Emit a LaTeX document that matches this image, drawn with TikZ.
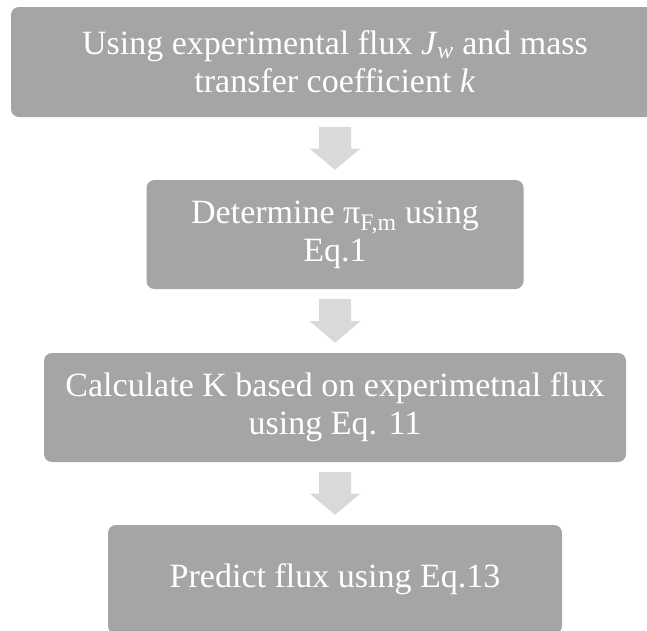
\documentclass[tikz,border=0pt]{standalone}
\usepackage{fontspec}
\setmainfont{Liberation Serif}
\usetikzlibrary{calc}
\definecolor{boxgrey}{HTML}{A5A5A5}
\definecolor{arrowgrey}{HTML}{D9D9D9}
% block arrow from the bottom of one box to the top of the next
\newcommand\blockarrow[2]{%
  \fill[arrowgrey]
    ($(#1.south)+(-16,10)$) -- ($(#1.south)+(16,10)$)
    -- ($($(#1.south)+(0,10)$)!0.5!($(#2.north)+(0,-10)$)+(16,0)$)
    -- ($($(#1.south)+(0,10)$)!0.5!($(#2.north)+(0,-10)$)+(25.5,0)$)
    -- ($(#2.north)+(0,-10)$)
    -- ($($(#1.south)+(0,10)$)!0.5!($(#2.north)+(0,-10)$)+(-25.5,0)$)
    -- ($($(#1.south)+(0,10)$)!0.5!($(#2.north)+(0,-10)$)+(-16,0)$)
    -- cycle;}
\begin{document}
\begin{tikzpicture}[x=1pt,y=-1pt,
  box/.style={fill=boxgrey, rounded corners=8pt, text=white, align=center,
    inner sep=0pt, font=\fontsize{34}{38}\selectfont}]
\useasboundingbox (0,0) rectangle (647,630);

\node[box, minimum width=648pt, minimum height=110pt] (b1) at (335,62)
  {Using experimental flux \textit{J}\textsubscript{\textit{w}} and mass\\transfer coefficient \textit{k}};
\node[box, minimum width=377pt, minimum height=109pt] (b2) at (335,234.5)
  {Determine π\textsubscript{F,m} using\\Eq.1};
\node[box, minimum width=582pt, minimum height=109pt] (b3) at (335,407.5)
  {Calculate K based on experimetnal flux\\using Eq. 11};
\node[box, minimum width=454pt, minimum height=109pt] (b4) at (335,579.5)
  {Predict flux using Eq.13};

\blockarrow{b1}{b2}
\blockarrow{b2}{b3}
\blockarrow{b3}{b4}
\end{tikzpicture}
\end{document}
